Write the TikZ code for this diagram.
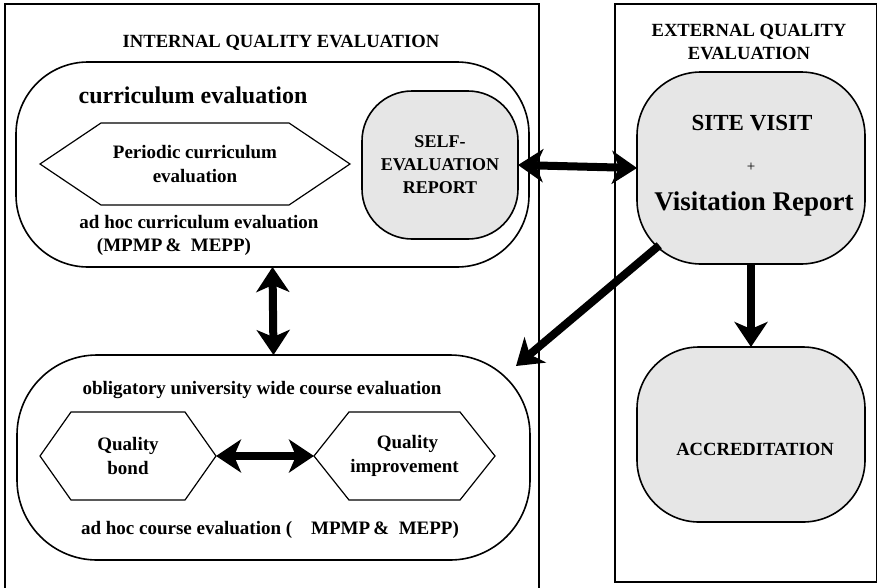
\documentclass[tikz,border=0pt]{standalone}
\usepackage{fontspec}
\setmainfont{Liberation Serif}
\usetikzlibrary{arrows.meta}
\definecolor{boxgray}{HTML}{E6E6E6}

\newcommand{\hexoutline}[2]{%
  \draw[line width=1.2pt] (#1.west) -- ([xshift=#2]#1.north west) -- ([xshift=-#2]#1.north east)
    -- (#1.east) -- ([xshift=-#2]#1.south east) -- ([xshift=#2]#1.south west) -- cycle;}

\tikzset{
  outerframe/.style={draw=black, line width=1.1pt},
  roundbox/.style={draw=black, line width=1.6pt, rectangle, inner sep=0pt, outer sep=0pt},
  graybox/.style={roundbox, fill=boxgray, align=center, font=\bfseries\fontsize{18}{23}\selectfont},
  hexbox/.style={rectangle, inner sep=0pt, outer sep=0pt, align=center, font=\bfseries\fontsize{19}{24}\selectfont},
  txt/.style={align=center, inner sep=0pt, font=\bfseries\fontsize{19}{25}\selectfont},
  headtxt/.style={align=center, inner sep=0pt, font=\bfseries\fontsize{18.6}{23}\selectfont},
  bigtip/.tip={Stealth[length=25pt,width=33pt,inset=7pt]},
  bigarrow/.style={line width=8pt, -bigtip},
  bigboth/.style={line width=8pt, bigtip-bigtip}
}

\begin{document}
\begin{tikzpicture}[x=1pt, y=-1pt]
        \useasboundingbox (0,0) rectangle (878,587);

        \draw[outerframe] (5,590) -- (5,4) -- (539,4) -- (539,590);
        \draw[outerframe] (615,4) rectangle (876.5,582);

        \node[headtxt] (ttlint) at (281,43) {INTERNAL QUALITY EVALUATION};

        \node[headtxt] (ttlext) at (749,42) {EXTERNAL QUALITY\\EVALUATION};

        \node[roundbox, rounded corners=72pt, minimum width=513pt, minimum height=205pt] (cur) at (272.5,164.5) {};

        \node[roundbox, rounded corners=80pt, minimum width=513pt, minimum height=205pt] (low) at (273.5,457.5) {};

        \node[graybox, rounded corners=50pt, minimum width=156pt, minimum height=148pt] (se) at (440,165) {SELF-\\EVALUATION\\REPORT};

        \node[graybox, rounded corners=64pt, minimum width=228pt, minimum height=192pt] (sv) at (751,168) {};

        \node[graybox, rounded corners=62pt, minimum width=228pt, minimum height=175pt] (acc) at (751,434.5) {};

        \node[txt, font=\bfseries\fontsize{24}{28}\selectfont] (curev) at (193,95) {curriculum evaluation};

        \node[hexbox, minimum width=310pt, minimum height=82pt] (pce) at (195,164) {Periodic curriculum\\evaluation};
        \hexoutline{pce}{61pt}

        \node[txt] (adhoccur) at (199,222) {ad hoc curriculum evaluation};

        \node[txt] (mpmpcur) at (174,247) {(MPMP\,\&~~MEPP)};

        \node[txt] (oblig) at (262,390) {obligatory university wide course evaluation};

        \node[hexbox, minimum width=176pt, minimum height=88pt] (qb) at (128,456) {Quality\\bond};
        \hexoutline{qb}{31pt}

        \node[hexbox, minimum width=181pt, minimum height=88pt] (qi) at (404.5,456) {\hspace*{6pt}Quality\\improvement};
        \hexoutline{qi}{35pt}

        \node[txt] (adhoccourse) at (270,530) {ad hoc course evaluation (\quad MPMP\,\&~~MEPP)};

        \node[txt, font=\bfseries\fontsize{23}{28}\selectfont] (sitevisit) at (752,123) {SITE VISIT};

        \node[txt, font=\fontsize{15}{18}\selectfont] (plus) at (751,167) {+};

        \node[txt, font=\bfseries\fontsize{27}{32}\selectfont] (visrep) at (754,204) {Visitation Report};

        \node[headtxt] (acctxt) at (755,449) {ACCREDITATION};

        \coordinate (diagend) at (516,366);

        \draw[bigboth] (se.east) -- (sv.west);
        \draw[bigboth] (cur.south) -- (low.north);
        \draw[bigboth] (qb.east) -- (qi.west);
        \draw[bigarrow] (sv.south) -- (acc.north);
        \draw[bigarrow, shorten <=120pt] (sv.center) -- (diagend);

    \end{tikzpicture}
\end{document}
